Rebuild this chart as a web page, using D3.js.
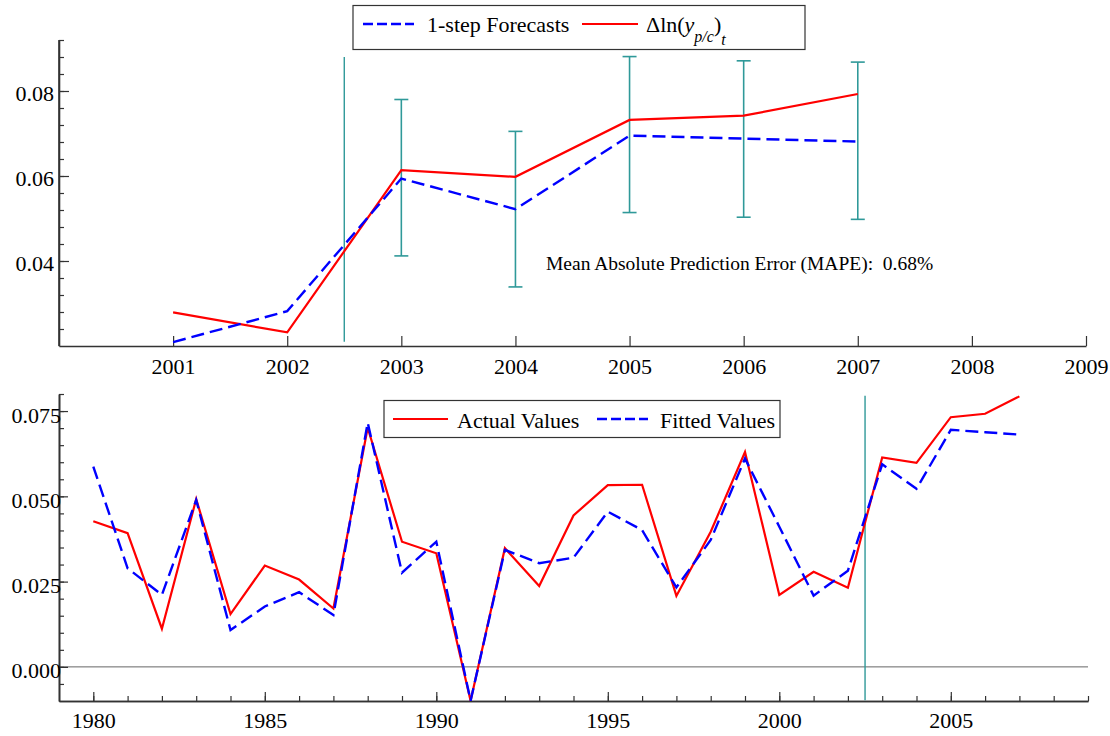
<!DOCTYPE html>
<html>
<head>
<meta charset="utf-8">
<script src="https://cdn.jsdelivr.net/npm/d3@7"></script>
<style>
  html, body { margin: 0; padding: 0; background: #fff; }
  svg { display: block; }
  svg text { font-family: "Liberation Serif", "Times New Roman", "DejaVu Serif", serif !important; white-space: pre; }
</style>
</head>
<body>
<svg id="chart" width="1110" height="736"></svg>
<script>
// ---------- DATA ----------
const years = [1980,1981,1982,1983,1984,1985,1986,1987,1988,1989,1990,1991,1992,1993,
               1994,1995,1996,1997,1998,1999,2000,2001,2002,2003,2004,2005,2006,2007];
const actualValues = [0.0427,0.0392,0.0112,0.0492,0.0155,0.0297,0.0256,0.0171,0.0701,0.0367,
                      0.0333,-0.0099,0.0348,0.0237,0.0444,0.0533,0.0534,0.0208,0.0396,0.0630,
                      0.0211,0.0279,0.0232,0.0614,0.0598,0.0732,0.0742,0.0793];
const fittedValues = [0.0587,0.0289,0.0211,0.0489,0.0108,0.0177,0.0219,0.0152,0.0716,0.0276,
                      0.0367,-0.0099,0.0343,0.0304,0.0320,0.0455,0.0401,0.0233,0.0372,0.0611,
                      0.0411,0.0209,0.0282,0.0594,0.0522,0.0695,0.0688,0.0681];
// forecast period (top panel)
const forecastStartYear = 2001;
const errYears = [2003,2004,2005,2006,2007];
const errUpper = [0.0780,0.0705,0.0881,0.0871,0.0868];
const errLower = [0.0412,0.0339,0.0514,0.0503,0.0498];
const breakYear = 2002.5;
const breakLineTop = [0.0880, 0.0210];   // top panel vertical line extent (values)
const topXTicks = [2001,2002,2003,2004,2005,2006,2007,2008,2009];
const topYTicks = [0.04,0.06,0.08];
const botXTicks = [1980,1985,1990,1995,2000,2005];
const botYTicks = [0.000,0.025,0.050,0.075];
const mapeText = "Mean Absolute Prediction Error (MAPE):  0.68%";

// ---------- SETUP ----------
const svg = d3.select("#chart");
const RED = "#ff0000", BLUE = "#0000ff", TEAL = "#2f9999", AX = "#333";
const FS = 22;
const SERIF = "Liberation Serif, Times New Roman, DejaVu Serif, serif";

// Top panel scales
const xT = d3.scaleLinear().domain([2000, 2009]).range([59, 1086]);
const yT = d3.scaleLinear().domain([0.02, 0.092]).range([346, 40]);
// Bottom panel scales
const xB = d3.scaleLinear().domain([1979, 2009]).range([59, 1088]);
const yB = d3.scaleLinear().domain([-0.01, 0.08]).range([701, 394]);

function styleAxis(g) {
  g.attr("font-family", SERIF).attr("font-size", FS);
  g.selectAll("path.domain").attr("stroke", AX).attr("stroke-width", 1.6);
  g.selectAll(".tick line").attr("stroke", AX).attr("stroke-width", 1.2);
  g.selectAll("text").attr("fill", "#000");
}

// ---------- TOP PANEL ----------
const gTop = svg.append("g");
// y minor ticks
gTop.append("g").attr("transform", `translate(${xT(2000)},0)`)
  .call(d3.axisLeft(yT).tickValues(d3.range(0.024, 0.0921, 0.004)).tickSize(-5).tickSizeOuter(0).tickFormat(""))
  .call(styleAxis);
// y major
const yAxT = gTop.append("g").attr("transform", `translate(${xT(2000)},0)`)
  .call(d3.axisLeft(yT).tickValues(topYTicks).tickSize(-10).tickSizeOuter(0).tickPadding(5).tickFormat(d3.format(".2f")))
  .call(styleAxis);
yAxT.selectAll("text").attr("dy", "0.45em");
yAxT.select("path.domain").attr("d", `M0,${yT(0.092)}V${yT(0.02)}`);
// x axis
gTop.append("g").attr("transform", `translate(0,${yT(0.02)})`)
  .call(d3.axisBottom(xT).tickValues(topXTicks).tickSize(-10).tickSizeOuter(0).tickPadding(12).tickFormat(d3.format("d")))
  .call(styleAxis);

// break line
gTop.append("line")
  .attr("x1", xT(breakYear)).attr("x2", xT(breakYear))
  .attr("y1", yT(breakLineTop[0])).attr("y2", yT(breakLineTop[1]))
  .attr("stroke", TEAL).attr("stroke-width", 1.4);

// error bars
const eb = gTop.append("g").attr("stroke", TEAL).attr("stroke-width", 1.6);
errYears.forEach((yr, i) => {
  const x = xT(yr);
  eb.append("line").attr("x1", x).attr("x2", x).attr("y1", yT(errUpper[i])).attr("y2", yT(errLower[i]));
  eb.append("line").attr("x1", x - 7).attr("x2", x + 7).attr("y1", yT(errUpper[i])).attr("y2", yT(errUpper[i]));
  eb.append("line").attr("x1", x - 7).attr("x2", x + 7).attr("y1", yT(errLower[i])).attr("y2", yT(errLower[i]));
});

const topIdx = years.map((y, i) => i).filter(i => years[i] >= forecastStartYear);
gTop.append("path").datum(topIdx)
  .attr("d", d3.line().x(i => xT(years[i])).y(i => yT(actualValues[i])))
  .attr("fill", "none").attr("stroke", RED).attr("stroke-width", 2.2);
gTop.append("path").datum(topIdx)
  .attr("d", d3.line().x(i => xT(years[i])).y(i => yT(fittedValues[i])))
  .attr("fill", "none").attr("stroke", BLUE).attr("stroke-width", 2.4).attr("stroke-dasharray", "13,6");

// MAPE text
gTop.append("text").attr("x", 546).attr("y", 270).attr("font-family", SERIF)
  .attr("font-size", 19.5).text(mapeText);

// top legend
const lgT = gTop.append("g").attr("font-family", SERIF);
lgT.append("rect").attr("x", 353).attr("y", 5.5).attr("width", 452).attr("height", 44)
  .attr("fill", "#fff").attr("stroke", AX).attr("stroke-width", 1.2);
lgT.append("line").attr("x1", 363).attr("x2", 414).attr("y1", 24).attr("y2", 24)
  .attr("stroke", BLUE).attr("stroke-width", 2.4).attr("stroke-dasharray", "10,4");
lgT.append("text").attr("x", 427).attr("y", 32).attr("font-size", 22).text("1-step Forecasts");
lgT.append("line").attr("x1", 582).attr("x2", 638).attr("y1", 24).attr("y2", 24)
  .attr("stroke", RED).attr("stroke-width", 2.2);
const lt = lgT.append("text").attr("x", 646).attr("y", 32).attr("font-size", 22);
lt.append("tspan").text("\u0394ln(");
lt.append("tspan").attr("font-style", "italic").text("y");
lt.append("tspan").attr("font-style", "italic").attr("font-size", 16).attr("dy", 10).text("p/c");
lt.append("tspan").attr("dy", -10).text(")");
lt.append("tspan").attr("font-style", "italic").attr("font-size", 16).attr("dy", 13).text("t");

// ---------- BOTTOM PANEL ----------
const gBot = svg.append("g");
// zero line
gBot.append("line").attr("x1", xB(1979)).attr("x2", xB(2009)).attr("y1", yB(0)).attr("y2", yB(0))
  .attr("stroke", "#666").attr("stroke-width", 1);
// y minor
gBot.append("g").attr("transform", `translate(${xB(1979)},0)`)
  .call(d3.axisLeft(yB).tickValues(d3.range(-0.005, 0.0801, 0.005)).tickSize(-5).tickSizeOuter(0).tickFormat(""))
  .call(styleAxis);
const yAxB = gBot.append("g").attr("transform", `translate(${xB(1979)},0)`)
  .call(d3.axisLeft(yB).tickValues(botYTicks).tickSize(-9).tickSizeOuter(0).tickPadding(-2).tickFormat(d3.format(".3f")))
  .call(styleAxis);
yAxB.selectAll("text").attr("dy", "0.5em");
// x minor
gBot.append("g").attr("transform", `translate(0,${yB(-0.01)})`)
  .call(d3.axisBottom(xB).tickValues(d3.range(1980, 2010)).tickSize(-5).tickSizeOuter(0).tickFormat(""))
  .call(styleAxis);
gBot.append("g").attr("transform", `translate(0,${yB(-0.01)})`)
  .call(d3.axisBottom(xB).tickValues(botXTicks).tickSize(-9).tickSizeOuter(0).tickPadding(11).tickFormat(d3.format("d")))
  .call(styleAxis);

// break line
gBot.append("line").attr("x1", xB(breakYear)).attr("x2", xB(breakYear))
  .attr("y1", yB(0.0795)).attr("y2", yB(-0.0098))
  .attr("stroke", TEAL).attr("stroke-width", 1.4);

const allIdx = years.map((y, i) => i);
gBot.append("path").datum(allIdx)
  .attr("d", d3.line().x(i => xB(years[i])).y(i => yB(actualValues[i])))
  .attr("fill", "none").attr("stroke", RED).attr("stroke-width", 2.2);
gBot.append("path").datum(allIdx)
  .attr("d", d3.line().x(i => xB(years[i])).y(i => yB(fittedValues[i])))
  .attr("fill", "none").attr("stroke", BLUE).attr("stroke-width", 2.4).attr("stroke-dasharray", "13,6");

// bottom legend
const lgB = gBot.append("g").attr("font-family", SERIF);
lgB.append("rect").attr("x", 384).attr("y", 400.5).attr("width", 396).attr("height", 37)
  .attr("fill", "#fff").attr("stroke", AX).attr("stroke-width", 1.2);
lgB.append("line").attr("x1", 393).attr("x2", 448).attr("y1", 419).attr("y2", 419)
  .attr("stroke", RED).attr("stroke-width", 2.2);
lgB.append("text").attr("x", 457).attr("y", 428).attr("font-size", 22).text("Actual Values");
lgB.append("line").attr("x1", 597).attr("x2", 648).attr("y1", 419).attr("y2", 419)
  .attr("stroke", BLUE).attr("stroke-width", 2.4).attr("stroke-dasharray", "10,4");
lgB.append("text").attr("x", 660).attr("y", 428).attr("font-size", 22).text("Fitted Values");
</script>
</body>
</html>
